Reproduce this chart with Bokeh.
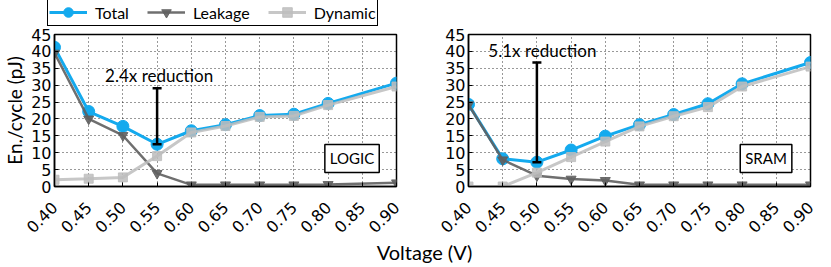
import math
from bokeh.plotting import figure
from bokeh.models import (Legend, LegendItem, Label, FixedTicker, NumeralTickFormatter, Range1d)
from bokeh.layouts import row, column
from bokeh.embed import file_html
from bokeh.resources import INLINE

# ---------------- data ----------------
volt = [0.40, 0.45, 0.50, 0.55, 0.60, 0.65, 0.70, 0.75, 0.80, 0.90]
x_ticks = [0.40, 0.45, 0.50, 0.55, 0.60, 0.65, 0.70, 0.75, 0.80, 0.85, 0.90]
y_ticks = [0, 5, 10, 15, 20, 25, 30, 35, 40, 45]

logic_total = [41.2, 22.2, 17.8, 12.5, 16.5, 18.3, 21.0, 21.4, 24.6, 30.6]
logic_leak = [39.5, 20.0, 15.1, 3.9, 0.5, 0.5, 0.5, 0.5, 0.6, 1.1]
logic_dyn = [2.0, 2.3, 2.7, 9.0, 16.0, 17.9, 20.6, 20.9, 24.1, 29.6]

sram_total = [24.3, 8.2, 7.2, 10.8, 14.9, 18.3, 21.3, 24.5, 30.4, 36.7]
sram_leak = [24.2, 7.9, 3.2, 2.2, 1.8, 0.5, 0.5, 0.5, 0.5, 0.5]
sram_dyn = [0.0, 0.0, 4.1, 8.7, 13.3, 17.8, 20.8, 23.5, 29.6, 35.5]

series_names = ["Total", "Leakage", "Dynamic"]

logic_bar_x, logic_bar_lo, logic_bar_hi = 0.55, 12.5, 29.1
sram_bar_x, sram_bar_lo, sram_bar_hi = 0.50, 7.2, 36.7
logic_note, sram_note = "2.4x reduction", "5.1x reduction"
logic_note_pos = (0.474, 33.0)
sram_note_pos = (0.429, 40.3)
logic_box, sram_box = "LOGIC", "SRAM"
box_pos = (0.835, 8.3)

C_TOTAL = "#14aaee"
C_LEAK = "#5f5f5f"
C_DYN = "#bdbdbd"

TICK_FONT = "DejaVu Sans"
TEXT_FONT = "Lato"

TOP, BOTTOM = 7, 42

STYLE = {
    "Total": dict(marker="circle", color=C_TOTAL, lw=3, size=12, alpha=1.0),
    "Leakage": dict(marker="inverted_triangle", color=C_LEAK, lw=2.5, size=10, alpha=0.9),
    "Dynamic": dict(marker="square", color=C_DYN, lw=3, size=9, alpha=0.85),
}


def draw_series(p, name, xs, ys):
    s = STYLE[name]
    l = p.line(xs, ys, line_color=s["color"], line_width=s["lw"], line_alpha=s["alpha"])
    m = p.scatter(xs, ys, marker=s["marker"], size=s["size"], fill_color=s["color"],
                  line_color=s["color"], alpha=s["alpha"])
    return [l, m]


def make_panel(total, leak, dyn, bar, note, note_pos, box, border_left, border_right, ylabel):
    p = figure(output_backend="svg", toolbar_location=None,
               frame_width=342, frame_height=152,
               min_border_left=border_left, min_border_right=border_right,
               min_border_top=TOP, min_border_bottom=BOTTOM,
               x_range=Range1d(0.40, 0.90), y_range=Range1d(0, 45))
    p.background_fill_color = "white"
    p.border_fill_color = "white"
    p.outline_line_color = "black"
    p.outline_line_width = 1.5

    p.xaxis.ticker = FixedTicker(ticks=x_ticks)
    p.yaxis.ticker = FixedTicker(ticks=y_ticks)
    p.xaxis.formatter = NumeralTickFormatter(format="0.00")
    p.xaxis.major_label_orientation = math.pi / 4
    for ax in (p.xaxis, p.yaxis):
        ax.major_label_text_font = TICK_FONT
        ax.major_label_text_font_size = "16px"
        ax.major_label_text_color = "black"
        ax.major_tick_in = 4
        ax.major_tick_out = 0
        ax.minor_tick_line_color = None
        ax.axis_line_color = "black"
        ax.axis_line_width = 1.5
        ax.major_tick_line_color = "black"
    p.yaxis.major_label_standoff = 3
    p.xaxis.major_label_standoff = 18
    if ylabel:
        p.yaxis.axis_label = ylabel
        p.yaxis.axis_label_text_font = TEXT_FONT
        p.yaxis.axis_label_text_font_size = "19px"
        p.yaxis.axis_label_text_font_style = "normal"
        p.yaxis.axis_label_text_color = "black"
        p.yaxis.axis_label_standoff = 2

    for g in (p.xgrid, p.ygrid):
        g.grid_line_color = "black"
        g.grid_line_dash = "1 3"
        g.grid_line_width = 1
        g.grid_line_alpha = 0.8
    p.xgrid.ticker = FixedTicker(ticks=x_ticks)
    p.ygrid.ticker = FixedTicker(ticks=y_ticks)

    draw_series(p, "Total", volt, total)
    draw_series(p, "Leakage", volt, leak)
    draw_series(p, "Dynamic", volt, dyn)

    bx, blo, bhi = bar
    p.segment(x0=[bx], y0=[blo], x1=[bx], y1=[bhi], line_color="black", line_width=2.5)
    p.scatter([bx, bx], [blo, bhi], marker="dash", size=9, line_color="black", line_width=2.5)

    p.add_layout(Label(x=note_pos[0], y=note_pos[1], text=note, text_font=TEXT_FONT,
                       text_font_size="17px", text_baseline="middle", text_align="left",
                       text_color="black"))
    p.add_layout(Label(x=box_pos[0], y=box_pos[1], text=box, text_font=TEXT_FONT,
                       text_font_size="15px", text_baseline="middle", text_align="center",
                       text_color="black", border_line_color="black", border_line_width=1.5,
                       background_fill_color="white", padding=5))
    return p


left = make_panel(logic_total, logic_leak, logic_dyn,
                  (logic_bar_x, logic_bar_lo, logic_bar_hi),
                  logic_note, logic_note_pos, logic_box, 46, 28, "En./cycle (pJ)")
right = make_panel(sram_total, sram_leak, sram_dyn,
                   (sram_bar_x, sram_bar_lo, sram_bar_hi),
                   sram_note, sram_note_pos, sram_box, 44, 13, None)

# legend strip (its own small figure, so the legend is not clipped);
# the legend renderers hold one point placed outside the visible range
leg_fig = figure(output_backend="svg", toolbar_location=None, width=815, height=27,
                 x_range=Range1d(0, 1), y_range=Range1d(0, 1), min_border=0)
leg_fig.axis.visible = False
leg_fig.grid.visible = False
leg_fig.outline_line_color = None
items = [LegendItem(label=n, renderers=draw_series(leg_fig, n, [-5], [-5])) for n in series_names]
legend = Legend(items=items, orientation="horizontal", location=(47, 1))
legend.label_text_font = TEXT_FONT
legend.label_text_font_size = "16px"
legend.label_text_color = "black"
legend.glyph_width = 38
legend.glyph_height = 24
legend.label_height = 24
legend.label_standoff = 8
legend.spacing = 18
legend.padding = 1
legend.margin = 0
legend.border_line_color = "black"
legend.border_line_alpha = 1
legend.border_line_width = 1.5
legend.background_fill_color = "white"
legend.background_fill_alpha = 1
leg_fig.add_layout(legend, "center")

# shared x-axis title
xlab = figure(output_backend="svg", toolbar_location=None, width=815, height=23,
              x_range=Range1d(0, 1), y_range=Range1d(0, 1), min_border=0)
xlab.axis.visible = False
xlab.grid.visible = False
xlab.outline_line_color = None
xlab.add_layout(Label(x=424, y=1, x_units="screen", y_units="screen", text="Voltage (V)",
                      text_font=TEXT_FONT, text_font_size="20px", text_align="center",
                      text_baseline="bottom", text_color="black"))

layout = column(leg_fig, row(left, right), xlab)
open("out.html", "w").write(file_html(layout, INLINE))
